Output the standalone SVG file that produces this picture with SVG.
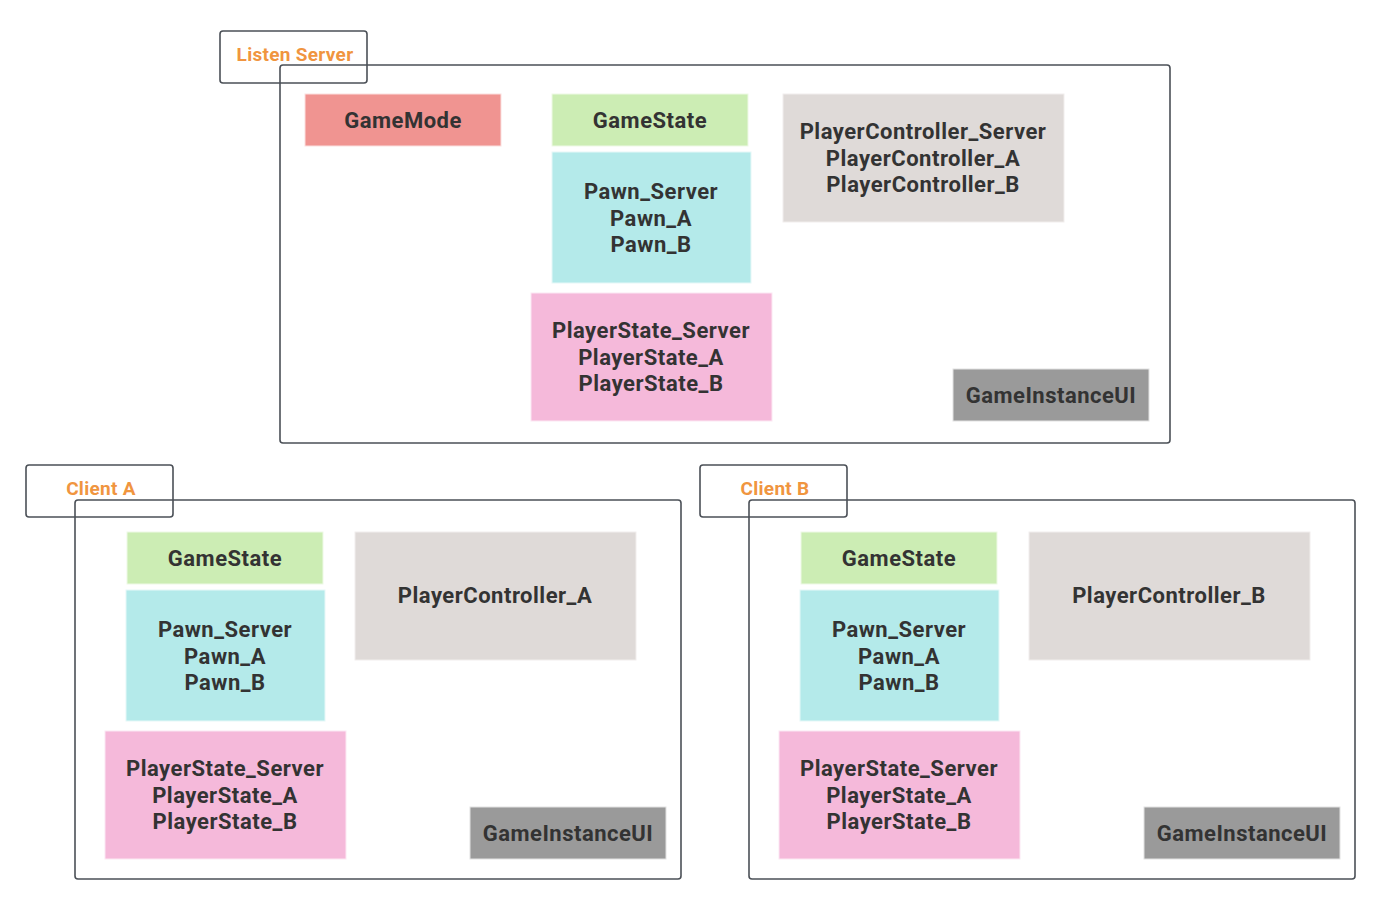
<svg xmlns="http://www.w3.org/2000/svg" width="1380" height="904" viewBox="0 0 1380 904">
<style>
.frame{fill:none;stroke:#4b5057;stroke-width:1.6}
.lbl{font-family:Roboto,"Liberation Sans",sans-serif;font-weight:bold;font-size:19px;letter-spacing:0.3px;fill:#f0953f;text-anchor:middle}
.t{font-family:Roboto,"Liberation Sans",sans-serif;font-weight:bold;font-size:22px;letter-spacing:0.5px;fill:#333;text-anchor:middle}
.gm{fill:#f09491;stroke:#fbe0df;stroke-width:1}
.gs{fill:#ccedb4;stroke:#eef9e6;stroke-width:1}
.pw{fill:#b4eaea;stroke:#e6f8f8;stroke-width:1}
.ps{fill:#f5b9da;stroke:#fce8f3;stroke-width:1}
.pc{fill:#dfdad8;stroke:#f1eeed;stroke-width:1}
.gi{fill:#9a9a9a;stroke:#e2e2e2;stroke-width:1}
</style>
<rect width="1380" height="904" fill="#fff"/>
<g id="frames">
<rect class="frame" x="280" y="65" width="890" height="378" rx="3"/>
<rect class="frame" x="220" y="31" width="147" height="52" rx="3"/>
<rect class="frame" x="75" y="500" width="606" height="379" rx="3"/>
<rect class="frame" x="26" y="465" width="147" height="52" rx="3"/>
<rect class="frame" x="749" y="500" width="606" height="379" rx="3"/>
<rect class="frame" x="700" y="465" width="147" height="52" rx="3"/>
<text class="lbl" x="295" y="61">Listen Server</text>
<text class="lbl" x="101" y="495">Client A</text>
<text class="lbl" x="775" y="495">Client B</text>
</g>
<g id="server">
<g id="s-gamemode"><rect class="gm" x="305" y="94" width="196" height="52"/><text class="t" x="403" y="128">GameMode</text></g>
<g id="s-gamestate"><rect class="gs" x="552" y="94" width="196" height="52"/><text class="t" x="650" y="128">GameState</text></g>
<g id="s-pawn"><rect class="pw" x="552" y="152" width="199" height="131"/><text class="t" x="651" y="199">Pawn_Server</text><text class="t" x="651" y="225.5">Pawn_A</text><text class="t" x="651" y="252">Pawn_B</text></g>
<g id="s-playerstate"><rect class="ps" x="531" y="293" width="241" height="128"/><text class="t" x="651" y="338">PlayerState_Server</text><text class="t" x="651" y="364.5">PlayerState_A</text><text class="t" x="651" y="391">PlayerState_B</text></g>
<g id="s-pc"><rect class="pc" x="783" y="94" width="281" height="128"/><text class="t" x="923" y="139">PlayerController_Server</text><text class="t" x="923" y="165.5">PlayerController_A</text><text class="t" x="923" y="192">PlayerController_B</text></g>
<g id="s-gi"><rect class="gi" x="953" y="369" width="196" height="52"/><text class="t" x="1051" y="403">GameInstanceUI</text></g>
</g>
<g id="clientA">
<g id="a-gamestate"><rect class="gs" x="127" y="532" width="196" height="52"/><text class="t" x="225" y="566">GameState</text></g>
<g id="a-pawn"><rect class="pw" x="126" y="590" width="199" height="131"/><text class="t" x="225" y="637">Pawn_Server</text><text class="t" x="225" y="663.5">Pawn_A</text><text class="t" x="225" y="690">Pawn_B</text></g>
<g id="a-playerstate"><rect class="ps" x="105" y="731" width="241" height="128"/><text class="t" x="225" y="776">PlayerState_Server</text><text class="t" x="225" y="802.5">PlayerState_A</text><text class="t" x="225" y="829">PlayerState_B</text></g>
<g id="a-pc"><rect class="pc" x="355" y="532" width="281" height="128"/><text class="t" x="495" y="603">PlayerController_A</text></g>
<g id="a-gi"><rect class="gi" x="470" y="807" width="196" height="52"/><text class="t" x="568" y="841">GameInstanceUI</text></g>
</g>
<g id="clientB">
<g id="b-gamestate"><rect class="gs" x="801" y="532" width="196" height="52"/><text class="t" x="899" y="566">GameState</text></g>
<g id="b-pawn"><rect class="pw" x="800" y="590" width="199" height="131"/><text class="t" x="899" y="637">Pawn_Server</text><text class="t" x="899" y="663.5">Pawn_A</text><text class="t" x="899" y="690">Pawn_B</text></g>
<g id="b-playerstate"><rect class="ps" x="779" y="731" width="241" height="128"/><text class="t" x="899" y="776">PlayerState_Server</text><text class="t" x="899" y="802.5">PlayerState_A</text><text class="t" x="899" y="829">PlayerState_B</text></g>
<g id="b-pc"><rect class="pc" x="1029" y="532" width="281" height="128"/><text class="t" x="1169" y="603">PlayerController_B</text></g>
<g id="b-gi"><rect class="gi" x="1144" y="807" width="196" height="52"/><text class="t" x="1242" y="841">GameInstanceUI</text></g>
</g>
<g id="connectors"></g>
</svg>
